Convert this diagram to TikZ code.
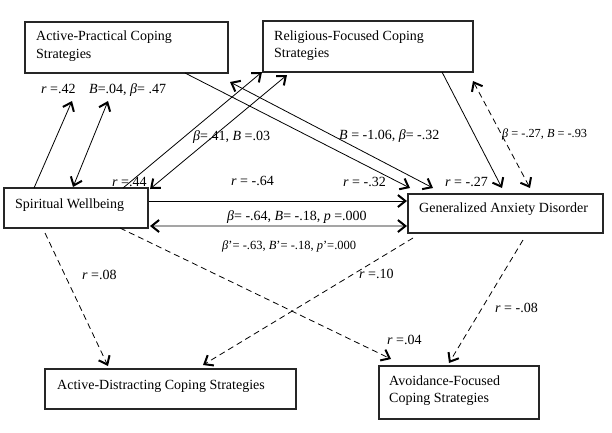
\documentclass[tikz,border=0pt]{standalone}
\usepackage{fontspec}
\setmainfont{Liberation Serif}
\usetikzlibrary{arrows.meta}
\begin{document}
\begin{tikzpicture}[x=1bp,y=-1bp,
  box/.style={draw=black!85,line width=1.2bp,rectangle,inner sep=0pt,outer sep=0pt,anchor=north west},
  boxtext/.style={anchor=base west,inner sep=0pt,font=\fontsize{14bp}{17.6bp}\selectfont,align=left},
  lab/.style={anchor=base west,inner sep=0pt,font=\fontsize{14bp}{17bp}\selectfont},
  smalllab/.style={anchor=base west,inner sep=0pt,font=\fontsize{12.3bp}{14bp}\selectfont},
  conn/.style={line width=0.8bp,black},
  dconn/.style={conn,dash pattern=on 6bp off 4bp},
  tip/.tip={Straight Barb[length=7.5bp,width=12bp,line width=2bp]},
  ar/.style={-tip},
  dar/.style={tip-tip}
]
\useasboundingbox (0,0) rectangle (612,432);
% boxes
\node[box,minimum width=203bp,minimum height=51bp] (ap) at (25,22) {};
\node[box,minimum width=210bp,minimum height=51bp] (rf) at (263,21) {};
\node[box,minimum width=144bp,minimum height=40bp] (sw) at (4,188) {};
\node[box,minimum width=195bp,minimum height=39bp] (gad) at (408,194) {};
\node[box,minimum width=251bp,minimum height=40bp] (ad) at (45,369) {};
\node[box,minimum width=160bp,minimum height=53bp] (avf) at (379,366) {};
% box texts (base = baseline of last line)
\node[boxtext] (apt) at ([shift={(11,36.3)}]ap.north west) {Active-Practical Coping\\Strategies};
\node[boxtext] (rft) at ([shift={(11,36.7)}]rf.north west) {Religious-Focused Coping\\Strategies};
\node[boxtext] (swt) at ([shift={(11,20.3)}]sw.north west) {Spiritual Wellbeing};
\node[boxtext] (gadt) at ([shift={(11,18.3)}]gad.north west) {Generalized Anxiety Disorder};
\node[boxtext] (adt) at ([shift={(12,20)}]ad.north west) {Active-Distracting Coping Strategies};
\node[boxtext] (avft) at ([shift={(10,36.7)}]avf.north west) {Avoidance-Focused\\Coping Strategies};
% solid connectors
\draw[conn,ar] ([shift={(30,0)}]sw.north west) -- ([shift={(47,28)}]ap.south west);
\draw[conn,dar] ([shift={(83,28)}]ap.south west) -- ([shift={(69,-1)}]sw.north west);
\draw[conn,ar] ([shift={(119,0)}]sw.north west) -- ([shift={(-1,0)}]rf.south west);
\draw[conn,dar] ([shift={(24,3)}]rf.south west) -- ([shift={(2,1)}]sw.north east);
\draw[conn,ar] ([shift={(160,0)}]ap.south west) -- ([shift={(2,-6)}]gad.north west);
\draw[conn,dar] ([shift={(2,9)}]ap.south east) -- ([shift={(25,-6)}]gad.north west);
\draw[conn,ar] ([shift={(-31,0)}]rf.south east) -- ([shift={(94,-6)}]gad.north west);
\draw[conn,ar] ([shift={(1,13)}]sw.north east) -- ([shift={(-1,7)}]gad.north west);
\draw[conn,dar] ([shift={(2,-2)}]sw.south east) -- ([shift={(-1,32)}]gad.north west);
% dashed connectors
\draw[dconn,dar] ([shift={(0,9)}]rf.south east) -- ([shift={(122,-6)}]gad.north west);
\draw[dconn,ar] ([shift={(41,5)}]sw.south west) -- ([shift={(63,-3)}]ad.north west);
\draw[dconn,ar] ([shift={(5,5)}]gad.south west) -- ([shift={(158,-4)}]ad.north west);
\draw[dconn,ar] ([shift={(116,0)}]sw.south west) -- ([shift={(12,-7)}]avf.north west);
\draw[dconn,ar] ([shift={(115,7)}]gad.south west) -- ([shift={(70,-3)}]avf.north west);
% labels
\node[lab] (l1) at (41,93.3) {\textit{r} =.42};
\node[lab] (l2) at (89,93.3) {\textit{B}=.04, \textit{β}= .47};
\node[lab] (l3) at (193,140) {\textit{β}=.41, \textit{B} =.03};
\node[lab] (l4) at (112,186.7) {\textit{r} =.44};
\node[lab] (l5) at (231,185.7) {\textit{r} = -.64};
\node[lab] (l6) at (343,186) {\textit{r} = -.32};
\node[lab] (l7) at (339,139) {\textit{B} = -1.06, \textit{β}= -.32};
\node[lab] (l8) at (445,186) {\textit{r} = -.27};
\node[smalllab] (l9) at (502,137.3) {\textit{β} = -.27, \textit{B} = -.93};
\node[lab] (l10) at (227,220) {\textit{β}= -.64, \textit{B}= -.18, \textit{p} =.000};
\node[smalllab,font=\fontsize{12.5bp}{14bp}\selectfont] (l11) at (222,249) {\textit{β}’= -.63, \textit{B}’= -.18, \textit{p}’=.000};
\node[lab] (l12) at (82,279) {\textit{r} =.08};
\node[lab] (l13) at (359,278.3) {\textit{r} =.10};
\node[lab] (l14) at (387,344) {\textit{r} =.04};
\node[lab] (l15) at (495,312.3) {\textit{r} = -.08};
\end{tikzpicture}
\end{document}
